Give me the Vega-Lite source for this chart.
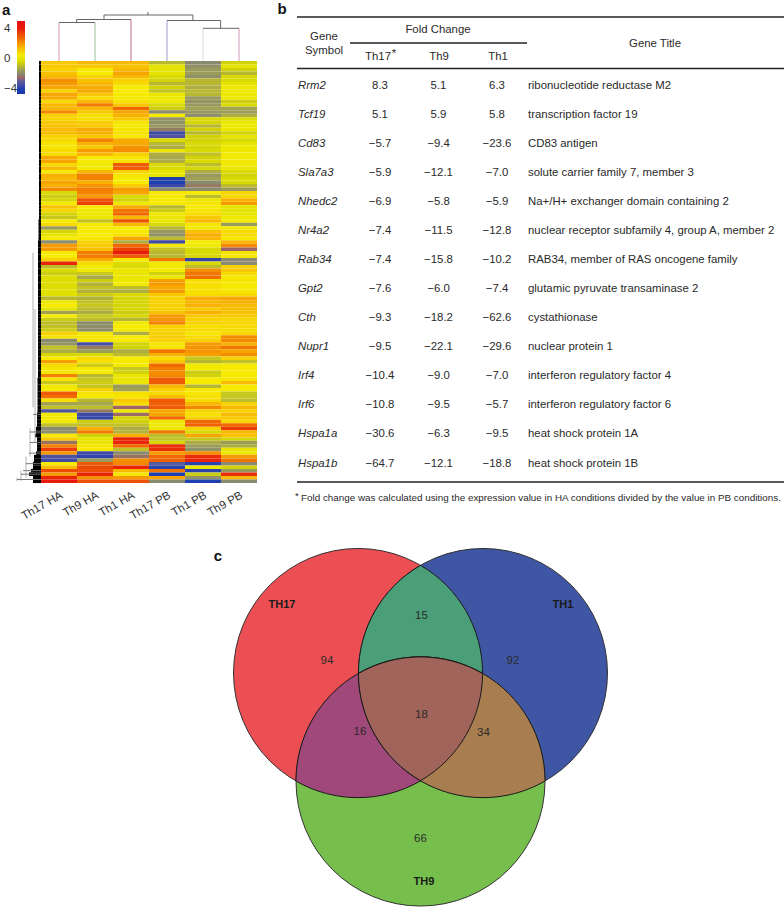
{"$schema":"https://vega.github.io/schema/vega-lite/v6.json","width":784,"height":912,"autosize":{"type":"none"},"padding":0,"background":"white",
"config":{"view":{"stroke":null},"text":{"font":"Liberation Sans","color":"#2a2a2a"},"axis":{"labelFont":"Liberation Sans"},"legend":{"labelFont":"Liberation Sans"}},
"datasets":{"genes":[
{"g":0,"d":2,"Th17 HA":1.2,"Th9 HA":1.5,"Th1 HA":1.5,"Th17 PB":-1,"Th1 PB":-2,"Th9 PB":-0.5},
{"g":1,"d":2,"Th17 HA":1.2,"Th9 HA":1.2,"Th1 HA":1.3,"Th17 PB":0,"Th1 PB":-1.8,"Th9 PB":0},
{"g":2,"d":2,"Th17 HA":1,"Th9 HA":0.5,"Th1 HA":1.5,"Th17 PB":0,"Th1 PB":-1.5,"Th9 PB":-0.5},
{"g":3,"d":2,"Th17 HA":1.3,"Th9 HA":0.5,"Th1 HA":1.8,"Th17 PB":0,"Th1 PB":-1.5,"Th9 PB":-1},
{"g":4,"d":2,"Th17 HA":1.5,"Th9 HA":1,"Th1 HA":1.5,"Th17 PB":-0.3,"Th1 PB":-1.8,"Th9 PB":-0.3},
{"g":5,"d":2,"Th17 HA":2.2,"Th9 HA":1.3,"Th1 HA":1,"Th17 PB":-0.5,"Th1 PB":-1,"Th9 PB":-0.3},
{"g":6,"d":2,"Th17 HA":2,"Th9 HA":1.5,"Th1 HA":0.8,"Th17 PB":-1,"Th1 PB":-1,"Th9 PB":0},
{"g":7,"d":2,"Th17 HA":1.8,"Th9 HA":1.7,"Th1 HA":0.5,"Th17 PB":-0.5,"Th1 PB":-1.2,"Th9 PB":0.3},
{"g":8,"d":2,"Th17 HA":1,"Th9 HA":1.8,"Th1 HA":0.5,"Th17 PB":-0.8,"Th1 PB":-1,"Th9 PB":0.3},
{"g":9,"d":2,"Th17 HA":1.8,"Th9 HA":1.2,"Th1 HA":0.5,"Th17 PB":0.2,"Th1 PB":-1,"Th9 PB":0.3},
{"g":10,"d":2,"Th17 HA":1.7,"Th9 HA":0.8,"Th1 HA":0.5,"Th17 PB":0.3,"Th1 PB":-1.6,"Th9 PB":0.3},
{"g":11,"d":2,"Th17 HA":0.8,"Th9 HA":1.5,"Th1 HA":0.7,"Th17 PB":0.3,"Th1 PB":-1.7,"Th9 PB":-0.6},
{"g":12,"d":2,"Th17 HA":1.5,"Th9 HA":2.5,"Th1 HA":1.2,"Th17 PB":-0.3,"Th1 PB":-1.6,"Th9 PB":-0.3},
{"g":13,"d":2,"Th17 HA":1.5,"Th9 HA":1.5,"Th1 HA":2.8,"Th17 PB":-0.6,"Th1 PB":-1.4,"Th9 PB":-1.4},
{"g":14,"d":2,"Th17 HA":2.3,"Th9 HA":1.2,"Th1 HA":1.8,"Th17 PB":-2,"Th1 PB":-1.6,"Th9 PB":-1.5},
{"g":15,"d":2,"Th17 HA":1,"Th9 HA":0.7,"Th1 HA":1.6,"Th17 PB":0.5,"Th1 PB":-1.9,"Th9 PB":-1.2},
{"g":16,"d":2,"Th17 HA":1,"Th9 HA":0.7,"Th1 HA":1.2,"Th17 PB":-1.8,"Th1 PB":-0.3,"Th9 PB":-0.2},
{"g":17,"d":2,"Th17 HA":1.2,"Th9 HA":1.1,"Th1 HA":0.6,"Th17 PB":-1.8,"Th1 PB":-0.4,"Th9 PB":0.2},
{"g":18,"d":2,"Th17 HA":1.3,"Th9 HA":1.2,"Th1 HA":0.5,"Th17 PB":-1.6,"Th1 PB":-1,"Th9 PB":0.3},
{"g":19,"d":2,"Th17 HA":1.4,"Th9 HA":1.7,"Th1 HA":0.6,"Th17 PB":-2.2,"Th1 PB":-0.5,"Th9 PB":0.3},
{"g":20,"d":2,"Th17 HA":1.4,"Th9 HA":1.6,"Th1 HA":0.7,"Th17 PB":-3.6,"Th1 PB":-1,"Th9 PB":-0.5},
{"g":21,"d":2,"Th17 HA":1,"Th9 HA":1.2,"Th1 HA":0.5,"Th17 PB":-3.3,"Th1 PB":-0.5,"Th9 PB":0},
{"g":22,"d":2,"Th17 HA":0.8,"Th9 HA":2.4,"Th1 HA":1.7,"Th17 PB":-0.3,"Th1 PB":-0.5,"Th9 PB":-0.3},
{"g":23,"d":2,"Th17 HA":0.6,"Th9 HA":1.6,"Th1 HA":1.7,"Th17 PB":-1,"Th1 PB":-0.3,"Th9 PB":0.1},
{"g":24,"d":2,"Th17 HA":0.6,"Th9 HA":1.2,"Th1 HA":2.1,"Th17 PB":-1.2,"Th1 PB":-0.4,"Th9 PB":0.3},
{"g":25,"d":2,"Th17 HA":0.8,"Th9 HA":2,"Th1 HA":2.2,"Th17 PB":0.3,"Th1 PB":-0.3,"Th9 PB":0.3},
{"g":26,"d":2,"Th17 HA":0.8,"Th9 HA":1.5,"Th1 HA":1,"Th17 PB":-1.2,"Th1 PB":-0.8,"Th9 PB":0.4},
{"g":27,"d":2,"Th17 HA":1.8,"Th9 HA":0.5,"Th1 HA":0.6,"Th17 PB":-1.3,"Th1 PB":-0.5,"Th9 PB":0.4},
{"g":28,"d":2,"Th17 HA":1.8,"Th9 HA":0.5,"Th1 HA":0.7,"Th17 PB":-1.2,"Th1 PB":-0.3,"Th9 PB":0.4},
{"g":29,"d":2,"Th17 HA":0.8,"Th9 HA":0.4,"Th1 HA":3,"Th17 PB":-0.3,"Th1 PB":-0.9,"Th9 PB":0.4},
{"g":30,"d":2,"Th17 HA":1.5,"Th9 HA":0.4,"Th1 HA":3,"Th17 PB":-0.3,"Th1 PB":-0.4,"Th9 PB":0.2},
{"g":31,"d":2,"Th17 HA":0.5,"Th9 HA":1.5,"Th1 HA":1,"Th17 PB":0.2,"Th1 PB":-1.2,"Th9 PB":-0.3},
{"g":32,"d":2,"Th17 HA":1.6,"Th9 HA":2.4,"Th1 HA":0.6,"Th17 PB":0,"Th1 PB":-1.6,"Th9 PB":-0.5},
{"g":33,"d":2,"Th17 HA":1.5,"Th9 HA":2.4,"Th1 HA":0.5,"Th17 PB":-4,"Th1 PB":-1.4,"Th9 PB":-0.3},
{"g":34,"d":2,"Th17 HA":1.8,"Th9 HA":1.6,"Th1 HA":0.5,"Th17 PB":-4,"Th1 PB":-2,"Th9 PB":-0.3},
{"g":35,"d":2,"Th17 HA":1.6,"Th9 HA":2.1,"Th1 HA":1.1,"Th17 PB":-3.6,"Th1 PB":-2.2,"Th9 PB":-0.9},
{"g":36,"d":2,"Th17 HA":2.3,"Th9 HA":2.5,"Th1 HA":2,"Th17 PB":-2,"Th1 PB":-2,"Th9 PB":-1.5},
{"g":37,"d":2,"Th17 HA":-0.3,"Th9 HA":2.4,"Th1 HA":1.8,"Th17 PB":0.6,"Th1 PB":0.5,"Th9 PB":1},
{"g":38,"d":2,"Th17 HA":-0.6,"Th9 HA":2,"Th1 HA":-0.3,"Th17 PB":0.5,"Th1 PB":-0.9,"Th9 PB":0.8},
{"g":39,"d":2,"Th17 HA":-0.4,"Th9 HA":3.2,"Th1 HA":-0.5,"Th17 PB":0.5,"Th1 PB":0.2,"Th9 PB":1.6},
{"g":40,"d":2,"Th17 HA":0.5,"Th9 HA":3.5,"Th1 HA":0.3,"Th17 PB":0.5,"Th1 PB":0.6,"Th9 PB":2},
{"g":41,"d":2,"Th17 HA":1.3,"Th9 HA":0.5,"Th1 HA":1.7,"Th17 PB":-1,"Th1 PB":0.5,"Th9 PB":0},
{"g":42,"d":2,"Th17 HA":0.9,"Th9 HA":0.4,"Th1 HA":2.6,"Th17 PB":-0.6,"Th1 PB":0.6,"Th9 PB":0},
{"g":43,"d":2,"Th17 HA":-0.4,"Th9 HA":0.3,"Th1 HA":2.8,"Th17 PB":0.3,"Th1 PB":0.8,"Th9 PB":0.1},
{"g":44,"d":2,"Th17 HA":-0.7,"Th9 HA":0.2,"Th1 HA":1.5,"Th17 PB":0.2,"Th1 PB":1.2,"Th9 PB":0.3},
{"g":45,"d":2.5,"Th17 HA":0.5,"Th9 HA":-0.8,"Th1 HA":3.2,"Th17 PB":0.2,"Th1 PB":1.5,"Th9 PB":0.4},
{"g":46,"d":2.5,"Th17 HA":0.8,"Th9 HA":0.5,"Th1 HA":1.5,"Th17 PB":-0.3,"Th1 PB":0.6,"Th9 PB":-1.5},
{"g":47,"d":2.5,"Th17 HA":-1.6,"Th9 HA":0.5,"Th1 HA":0.5,"Th17 PB":-1,"Th1 PB":0.4,"Th9 PB":0.4},
{"g":48,"d":2.5,"Th17 HA":-0.4,"Th9 HA":0.5,"Th1 HA":0.5,"Th17 PB":-1.6,"Th1 PB":1.3,"Th9 PB":0.8},
{"g":49,"d":2.5,"Th17 HA":0.1,"Th9 HA":0.5,"Th1 HA":0.7,"Th17 PB":-1.8,"Th1 PB":1.7,"Th9 PB":0.8},
{"g":50,"d":2.5,"Th17 HA":0.5,"Th9 HA":0.6,"Th1 HA":1.8,"Th17 PB":-0.9,"Th1 PB":1.5,"Th9 PB":0.5},
{"g":51,"d":3,"Th17 HA":-1.9,"Th9 HA":1,"Th1 HA":-1.2,"Th17 PB":-3.6,"Th1 PB":0.5,"Th9 PB":1.5},
{"g":52,"d":3,"Th17 HA":2,"Th9 HA":1.2,"Th1 HA":2.8,"Th17 PB":0.5,"Th1 PB":0.4,"Th9 PB":2.3},
{"g":53,"d":3,"Th17 HA":2,"Th9 HA":1.3,"Th1 HA":3.5,"Th17 PB":-0.8,"Th1 PB":-0.3,"Th9 PB":-2.5},
{"g":54,"d":3,"Th17 HA":0.5,"Th9 HA":2.5,"Th1 HA":4,"Th17 PB":-1,"Th1 PB":-0.3,"Th9 PB":0.6},
{"g":55,"d":3,"Th17 HA":0.5,"Th9 HA":2.5,"Th1 HA":3,"Th17 PB":-1,"Th1 PB":-0.4,"Th9 PB":0.6},
{"g":56,"d":3,"Th17 HA":1,"Th9 HA":1.7,"Th1 HA":0.5,"Th17 PB":2.5,"Th1 PB":-3.8,"Th9 PB":-2},
{"g":57,"d":3,"Th17 HA":3.9,"Th9 HA":0.8,"Th1 HA":-0.2,"Th17 PB":0.4,"Th1 PB":-0.3,"Th9 PB":-2},
{"g":58,"d":3,"Th17 HA":-0.9,"Th9 HA":0.4,"Th1 HA":-0.3,"Th17 PB":0.4,"Th1 PB":-0.9,"Th9 PB":1},
{"g":59,"d":3,"Th17 HA":-0.3,"Th9 HA":0.3,"Th1 HA":0.2,"Th17 PB":0.5,"Th1 PB":2.2,"Th9 PB":1.2},
{"g":60,"d":3,"Th17 HA":-0.6,"Th9 HA":-0.7,"Th1 HA":0.2,"Th17 PB":-0.5,"Th1 PB":2.6,"Th9 PB":0.8},
{"g":61,"d":3,"Th17 HA":-0.2,"Th9 HA":-1.3,"Th1 HA":0.2,"Th17 PB":0.2,"Th1 PB":2.7,"Th9 PB":0.6},
{"g":62,"d":3,"Th17 HA":-0.2,"Th9 HA":-0.6,"Th1 HA":0.3,"Th17 PB":1.9,"Th1 PB":0.7,"Th9 PB":0.6},
{"g":63,"d":3,"Th17 HA":-0.2,"Th9 HA":-1.1,"Th1 HA":0.4,"Th17 PB":2,"Th1 PB":0.7,"Th9 PB":0.5},
{"g":64,"d":3,"Th17 HA":-0.2,"Th9 HA":-0.8,"Th1 HA":-0.9,"Th17 PB":1.7,"Th1 PB":0.7,"Th9 PB":0.5},
{"g":65,"d":3,"Th17 HA":-0.1,"Th9 HA":-1.1,"Th1 HA":-1.2,"Th17 PB":2,"Th1 PB":0.7,"Th9 PB":0.6},
{"g":66,"d":3,"Th17 HA":-0.1,"Th9 HA":-0.6,"Th1 HA":-0.3,"Th17 PB":1.2,"Th1 PB":0.8,"Th9 PB":0.8},
{"g":67,"d":3,"Th17 HA":-1,"Th9 HA":-1.1,"Th1 HA":-0.4,"Th17 PB":1,"Th1 PB":1.7,"Th9 PB":1.8},
{"g":68,"d":3,"Th17 HA":0.3,"Th9 HA":-0.8,"Th1 HA":-0.4,"Th17 PB":1,"Th1 PB":1.5,"Th9 PB":1.6},
{"g":69,"d":3,"Th17 HA":0.5,"Th9 HA":-0.7,"Th1 HA":-0.4,"Th17 PB":1,"Th1 PB":1.6,"Th9 PB":1.4},
{"g":70,"d":3,"Th17 HA":0,"Th9 HA":-0.9,"Th1 HA":-0.4,"Th17 PB":1,"Th1 PB":1.2,"Th9 PB":1.4},
{"g":71,"d":3,"Th17 HA":-1.4,"Th9 HA":-1.2,"Th1 HA":-0.6,"Th17 PB":1.3,"Th1 PB":1.6,"Th9 PB":1.3},
{"g":72,"d":3,"Th17 HA":0.5,"Th9 HA":-0.7,"Th1 HA":-0.4,"Th17 PB":2,"Th1 PB":1.2,"Th9 PB":1.2},
{"g":73,"d":3,"Th17 HA":-0.6,"Th9 HA":-0.9,"Th1 HA":-1,"Th17 PB":2.1,"Th1 PB":1,"Th9 PB":0.9},
{"g":74,"d":3,"Th17 HA":-0.9,"Th9 HA":-1.9,"Th1 HA":0.3,"Th17 PB":2.4,"Th1 PB":1,"Th9 PB":0.9},
{"g":75,"d":3,"Th17 HA":-0.8,"Th9 HA":-1.9,"Th1 HA":0.5,"Th17 PB":1,"Th1 PB":0.7,"Th9 PB":0.8},
{"g":76,"d":3,"Th17 HA":-0.6,"Th9 HA":-1.9,"Th1 HA":0.5,"Th17 PB":1,"Th1 PB":0.8,"Th9 PB":0.8},
{"g":77,"d":3,"Th17 HA":1,"Th9 HA":0.4,"Th1 HA":-1.2,"Th17 PB":1,"Th1 PB":0.6,"Th9 PB":0.9},
{"g":78,"d":3,"Th17 HA":0.6,"Th9 HA":0.6,"Th1 HA":0.5,"Th17 PB":1.1,"Th1 PB":0.8,"Th9 PB":2.2},
{"g":79,"d":3,"Th17 HA":-2,"Th9 HA":0.6,"Th1 HA":0.5,"Th17 PB":1,"Th1 PB":1,"Th9 PB":2.3},
{"g":80,"d":3,"Th17 HA":-1.7,"Th9 HA":-3.4,"Th1 HA":-0.5,"Th17 PB":0.6,"Th1 PB":2,"Th9 PB":1.6},
{"g":81,"d":3,"Th17 HA":-0.8,"Th9 HA":-2.2,"Th1 HA":-0.5,"Th17 PB":0.6,"Th1 PB":2.1,"Th9 PB":2.6},
{"g":82,"d":3,"Th17 HA":-1.2,"Th9 HA":-1.5,"Th1 HA":-1.2,"Th17 PB":2.6,"Th1 PB":2.1,"Th9 PB":1.8},
{"g":83,"d":3,"Th17 HA":-0.4,"Th9 HA":-0.3,"Th1 HA":-0.9,"Th17 PB":1.6,"Th1 PB":1.9,"Th9 PB":2.2},
{"g":84,"d":3,"Th17 HA":0.5,"Th9 HA":0.8,"Th1 HA":0.5,"Th17 PB":0.8,"Th1 PB":-0.7,"Th9 PB":1},
{"g":85,"d":3,"Th17 HA":1.9,"Th9 HA":0.7,"Th1 HA":0.5,"Th17 PB":1.2,"Th1 PB":-1,"Th9 PB":-0.8},
{"g":86,"d":3,"Th17 HA":0.8,"Th9 HA":-0.6,"Th1 HA":0.4,"Th17 PB":2.8,"Th1 PB":0.4,"Th9 PB":0.5},
{"g":87,"d":3,"Th17 HA":0.6,"Th9 HA":0.5,"Th1 HA":-0.7,"Th17 PB":2.5,"Th1 PB":0.4,"Th9 PB":0.5},
{"g":88,"d":3,"Th17 HA":0.6,"Th9 HA":0.5,"Th1 HA":-0.5,"Th17 PB":2.2,"Th1 PB":-0.6,"Th9 PB":0.5},
{"g":89,"d":3,"Th17 HA":2.4,"Th9 HA":-1,"Th1 HA":0.2,"Th17 PB":2.3,"Th1 PB":-0.5,"Th9 PB":0.5},
{"g":90,"d":3.5,"Th17 HA":0.6,"Th9 HA":-0.7,"Th1 HA":0.2,"Th17 PB":3,"Th1 PB":0.5,"Th9 PB":0.6},
{"g":91,"d":3.5,"Th17 HA":-0.7,"Th9 HA":-0.6,"Th1 HA":0.2,"Th17 PB":3,"Th1 PB":0.5,"Th9 PB":1.4},
{"g":92,"d":3.5,"Th17 HA":0.4,"Th9 HA":-0.7,"Th1 HA":-1.5,"Th17 PB":1.5,"Th1 PB":-1,"Th9 PB":0.5},
{"g":93,"d":3.5,"Th17 HA":0.5,"Th9 HA":1,"Th1 HA":-1.4,"Th17 PB":1,"Th1 PB":0.5,"Th9 PB":0.5},
{"g":94,"d":3.5,"Th17 HA":3,"Th9 HA":0.6,"Th1 HA":0.7,"Th17 PB":0.8,"Th1 PB":0.6,"Th9 PB":-0.7},
{"g":95,"d":3.5,"Th17 HA":2.7,"Th9 HA":0.5,"Th1 HA":0.6,"Th17 PB":1.4,"Th1 PB":0.7,"Th9 PB":-0.7},
{"g":96,"d":3.5,"Th17 HA":0.7,"Th9 HA":-1,"Th1 HA":1.2,"Th17 PB":3,"Th1 PB":0.8,"Th9 PB":-0.9},
{"g":97,"d":3.5,"Th17 HA":-1.4,"Th9 HA":-1.3,"Th1 HA":0.8,"Th17 PB":2.9,"Th1 PB":1.5,"Th9 PB":1},
{"g":98,"d":3.5,"Th17 HA":-0.8,"Th9 HA":-0.9,"Th1 HA":-2.5,"Th17 PB":3,"Th1 PB":2.3,"Th9 PB":1.5},
{"g":99,"d":3.5,"Th17 HA":-3.3,"Th9 HA":-2.2,"Th1 HA":0.3,"Th17 PB":1.8,"Th1 PB":1,"Th9 PB":1},
{"g":100,"d":4,"Th17 HA":0.4,"Th9 HA":-3.6,"Th1 HA":-2.4,"Th17 PB":1.8,"Th1 PB":0.7,"Th9 PB":1.4},
{"g":101,"d":4,"Th17 HA":0.4,"Th9 HA":-3.8,"Th1 HA":-0.4,"Th17 PB":2.8,"Th1 PB":1,"Th9 PB":1.2},
{"g":102,"d":4,"Th17 HA":0.4,"Th9 HA":-0.6,"Th1 HA":-0.5,"Th17 PB":0.3,"Th1 PB":2.8,"Th9 PB":0.9},
{"g":103,"d":4,"Th17 HA":-0.8,"Th9 HA":-0.8,"Th1 HA":-0.8,"Th17 PB":0.3,"Th1 PB":2.9,"Th9 PB":2.8},
{"g":104,"d":5,"Th17 HA":-2,"Th9 HA":1.6,"Th1 HA":-1.2,"Th17 PB":0.3,"Th1 PB":1,"Th9 PB":3.6},
{"g":105,"d":5,"Th17 HA":-1.9,"Th9 HA":2.5,"Th1 HA":-1.1,"Th17 PB":2.6,"Th1 PB":-0.3,"Th9 PB":1.5},
{"g":106,"d":6,"Th17 HA":0.5,"Th9 HA":-0.5,"Th1 HA":1.6,"Th17 PB":-0.9,"Th1 PB":1.8,"Th9 PB":1.3},
{"g":107,"d":4,"Th17 HA":1.2,"Th9 HA":0,"Th1 HA":3.9,"Th17 PB":-0.8,"Th1 PB":-0.7,"Th9 PB":-0.4},
{"g":108,"d":4,"Th17 HA":-2.3,"Th9 HA":0.2,"Th1 HA":3.9,"Th17 PB":-0.4,"Th1 PB":-1.2,"Th9 PB":-1.5},
{"g":109,"d":4,"Th17 HA":2.4,"Th9 HA":0.6,"Th1 HA":2.8,"Th17 PB":3.8,"Th1 PB":-1.5,"Th9 PB":-1.2},
{"g":110,"d":4,"Th17 HA":3.6,"Th9 HA":0.5,"Th1 HA":-0.8,"Th17 PB":3.8,"Th1 PB":-1.8,"Th9 PB":0.1},
{"g":111,"d":5,"Th17 HA":2,"Th9 HA":-3.6,"Th1 HA":-2,"Th17 PB":2,"Th1 PB":2.2,"Th9 PB":0.3},
{"g":112,"d":7,"Th17 HA":-3.3,"Th9 HA":-3.8,"Th1 HA":-2.3,"Th17 PB":2.8,"Th1 PB":3.8,"Th9 PB":2},
{"g":113,"d":7,"Th17 HA":-3.6,"Th9 HA":-1.5,"Th1 HA":2.2,"Th17 PB":2.9,"Th1 PB":3.9,"Th9 PB":2.6},
{"g":114,"d":8,"Th17 HA":0.5,"Th9 HA":3,"Th1 HA":2.3,"Th17 PB":-3,"Th1 PB":-3.9,"Th9 PB":-2},
{"g":115,"d":8,"Th17 HA":1.4,"Th9 HA":3.4,"Th1 HA":3.9,"Th17 PB":-3.9,"Th1 PB":0.2,"Th9 PB":-0.5},
{"g":116,"d":10,"Th17 HA":3.3,"Th9 HA":3.2,"Th1 HA":1.5,"Th17 PB":2.6,"Th1 PB":-3.9,"Th9 PB":-1.6},
{"g":117,"d":12,"Th17 HA":2,"Th9 HA":3.9,"Th1 HA":0.6,"Th17 PB":-4,"Th1 PB":-0.6,"Th9 PB":3.8},
{"g":118,"d":8,"Th17 HA":3.9,"Th9 HA":2.2,"Th1 HA":2,"Th17 PB":1.8,"Th1 PB":-1.8,"Th9 PB":1.5},
{"g":119,"d":8,"Th17 HA":4,"Th9 HA":3.2,"Th1 HA":3.2,"Th17 PB":-2,"Th1 PB":-4,"Th9 PB":-2}
],
"table":[
{"gene":"Rrm2","Th17":8.3,"Th9":5.1,"Th1":6.3,"title":"ribonucleotide reductase M2"},
{"gene":"Tcf19","Th17":5.1,"Th9":5.9,"Th1":5.8,"title":"transcription factor 19"},
{"gene":"Cd83","Th17":-5.7,"Th9":-9.4,"Th1":-23.6,"title":"CD83 antigen"},
{"gene":"Sla7a3","Th17":-5.9,"Th9":-12.1,"Th1":-7.0,"title":"solute carrier family 7, member 3"},
{"gene":"Nhedc2","Th17":-6.9,"Th9":-5.8,"Th1":-5.9,"title":"Na+/H+ exchanger domain containing 2"},
{"gene":"Nr4a2","Th17":-7.4,"Th9":-11.5,"Th1":-12.8,"title":"nuclear receptor subfamily 4, group A, member 2"},
{"gene":"Rab34","Th17":-7.4,"Th9":-15.8,"Th1":-10.2,"title":"RAB34, member of RAS oncogene family"},
{"gene":"Gpt2","Th17":-7.6,"Th9":-6.0,"Th1":-7.4,"title":"glutamic pyruvate transaminase 2"},
{"gene":"Cth","Th17":-9.3,"Th9":-18.2,"Th1":-62.6,"title":"cystathionase"},
{"gene":"Nupr1","Th17":-9.5,"Th9":-22.1,"Th1":-29.6,"title":"nuclear protein 1"},
{"gene":"Irf4","Th17":-10.4,"Th9":-9.0,"Th1":-7.0,"title":"interferon regulatory factor 4"},
{"gene":"Irf6","Th17":-10.8,"Th9":-9.5,"Th1":-5.7,"title":"interferon regulatory factor 6"},
{"gene":"Hspa1a","Th17":-30.6,"Th9":-6.3,"Th1":-9.5,"title":"heat shock protein 1A"},
{"gene":"Hspa1b","Th17":-64.7,"Th9":-12.1,"Th1":-18.8,"title":"heat shock protein 1B"}
]},
"layer":[
{"data":{"name":"genes"},"transform":[{"fold":["Th17 HA","Th9 HA","Th1 HA","Th17 PB","Th1 PB","Th9 PB"],"as":["sample","v"]}],
 "mark":{"type":"rect"},
 "encoding":{
  "x":{"field":"sample","type":"nominal","title":null,"sort":["Th17 HA","Th9 HA","Th1 HA","Th17 PB","Th1 PB","Th9 PB"],"scale":{"type":"band","range":[41,257],"paddingInner":0,"paddingOuter":0},"axis":{"orient":"bottom","offset":-429,"domain":false,"ticks":false,"grid":false,"labelAngle":-30,"labelAlign":"right","labelBaseline":"top","labelFontSize":11.5,"labelColor":"#333","labelPadding":6,"labelDx":11,"labelOverlap":false}},
  "y":{"field":"g","type":"ordinal","title":null,"axis":null,"scale":{"type":"band","range":[61,483],"paddingInner":0,"paddingOuter":0}},
  "color":{"field":"v","type":"quantitative","scale":{"type":"linear","domain":[-4.67,-4,-3,-2,-1.5,-1,-0.5,0,0.5,1.2,2,3,4,5.07],"range":["#1a35b0","#1f3fae","#5a5a9a","#8a8a70","#9c9c5a","#b8b830","#d2d208","#e4e400","#f5ea00","#f8c800","#f59a00","#ee5a05","#e81b0a","#e81010"]},
   "legend":{"orient":"none","legendX":17,"legendY":21,"title":null,"gradientLength":73,"gradientThickness":8,"values":[4,0,-4],"labelFontSize":11.5,"labelColor":"#333","labelAlign":"right","labelOffset":-21,"gradientStrokeWidth":0,"tickCount":3}}
 }},
{"layer":[
 {"data":{"name":"genes"},"mark":{"type":"rule","color":"#000","strokeWidth":3.6},"encoding":{
  "x":{"field":"d","type":"quantitative","axis":null,"scale":{"domain":[41,0],"range":[0,41],"zero":false,"nice":false}},
  "x2":{"datum":0},
  "y":{"field":"g","type":"quantitative","axis":null,"scale":{"domain":[-0.5,119.5],"range":[61,483],"zero":false,"nice":false}}}},
 {"data":{"values":[{"d":8,"g":54,"g2":98},{"d":6,"g":70,"g2":108},{"d":11,"g":104,"g2":112},{"d":15,"g":112,"g2":118},{"d":20,"g":116,"g2":119},{"d":24,"g":118,"g2":119}]},"mark":{"type":"rule","color":"#b4b4b4","strokeWidth":1},"encoding":{
  "x":{"field":"d","type":"quantitative","axis":null,"scale":{"domain":[41,0],"range":[0,41],"zero":false,"nice":false}},
  "y":{"field":"g","type":"quantitative","axis":null,"scale":{"domain":[-0.5,119.5],"range":[61,483],"zero":false,"nice":false}},
  "y2":{"field":"g2"}}},
 {"data":{"values":[{"d":24,"g":118.5},{"d":20,"g":117},{"d":18,"g":116},{"d":15,"g":114},{"d":12,"g":111},{"d":11,"g":108},{"d":11,"g":105},{"d":8,"g":100}]},"mark":{"type":"rule","color":"#777","strokeWidth":1},"encoding":{
  "x":{"field":"d","type":"quantitative","axis":null,"scale":{"domain":[41,0],"range":[0,41],"zero":false,"nice":false}},
  "x2":{"datum":0},
  "y":{"field":"g","type":"quantitative","axis":null,"scale":{"domain":[-0.5,119.5],"range":[61,483],"zero":false,"nice":false}}}}
]},
{"layer":[
 {"data":{"values":[
  {"x":0.5,"h":0,"h2":38.5,"k":"pink"},{"x":1.5,"h":0,"h2":38.5,"k":"green"},{"x":2.5,"h":0,"h2":41.5,"k":"crimson"},{"x":3.5,"h":0,"h2":40.5,"k":"blue"},{"x":4.5,"h":0,"h2":32.7,"k":"light"},{"x":5.5,"h":0,"h2":32.7,"k":"mauve"},
  {"x":0.99,"h":38.5,"h2":41.5,"k":"stem"},{"x":1.75,"h":41.5,"h2":46,"k":"stem"},{"x":4.99,"h":32.7,"h2":40.5,"k":"stem"},{"x":4.22,"h":40.5,"h2":46,"k":"stem"},{"x":2.97,"h":46,"h2":49,"k":"stem"}]},
  "mark":{"type":"rule","strokeWidth":1},"encoding":{
  "x":{"field":"x","type":"quantitative","axis":null,"scale":{"domain":[0,6],"range":[41,257],"zero":false,"nice":false}},
  "y":{"field":"h","type":"quantitative","axis":null,"scale":{"domain":[0,61],"range":[61,0],"zero":false,"nice":false}},
  "y2":{"field":"h2"},
  "color":{"field":"k","type":"nominal","legend":null,"scale":{"domain":["pink","green","crimson","blue","light","mauve","stem"],"range":["#dc98a4","#9abf9a","#c46a88","#9a9ac8","#dcdce4","#d49ab8","#666666"]}}}},
 {"data":{"values":[{"x":0.5,"x2":1.5,"h":38.5},{"x":0.99,"x2":2.5,"h":41.5},{"x":1.75,"x2":4.22,"h":46},{"x":3.5,"x2":4.99,"h":40.5},{"x":4.5,"x2":5.5,"h":32.7}]},
  "mark":{"type":"rule","strokeWidth":1,"color":"#666"},"encoding":{
  "x":{"field":"x","type":"quantitative","axis":null,"scale":{"domain":[0,6],"range":[41,257],"zero":false,"nice":false}},
  "x2":{"field":"x2"},
  "y":{"field":"h","type":"quantitative","axis":null,"scale":{"domain":[0,61],"range":[61,0],"zero":false,"nice":false}}}},
 {"data":{"values":[{"t":"a","x":-0.97,"h":51}]},
  "mark":{"type":"text","fontWeight":"bold","fontSize":15,"color":"#111"},"encoding":{
  "x":{"field":"x","type":"quantitative","axis":null,"scale":{"domain":[0,6],"range":[41,257],"zero":false,"nice":false}},
  "y":{"field":"h","type":"quantitative","axis":null,"scale":{"domain":[0,61],"range":[61,0],"zero":false,"nice":false}},
  "text":{"field":"t"}}}
]},
{"layer":[
 {"data":{"name":"table"},"transform":[{"fold":["Th17","Th9","Th1"],"as":["col","val"]}],"mark":{"type":"text","fontSize":11.4,"align":"center"},"encoding":{
  "x":{"field":"col","type":"nominal","axis":null,"scale":{"type":"point","domain":["Gene","Th17","Th9","Th1","Title"],"range":[321.5,555.5],"padding":0}},
  "y":{"field":"gene","type":"nominal","axis":null,"sort":null,"scale":{"type":"point","range":[85.5,463.5],"padding":0}},
  "text":{"field":"val","type":"quantitative","format":".1f"}}},
 {"data":{"name":"table"},"mark":{"type":"text","fontSize":11.4,"align":"left","dx":-23.5,"fontStyle":"italic"},"encoding":{
  "x":{"datum":"Gene","type":"nominal","axis":null,"scale":{"type":"point","domain":["Gene","Th17","Th9","Th1","Title"],"range":[321.5,555.5],"padding":0}},
  "y":{"field":"gene","type":"nominal","axis":null,"sort":null,"scale":{"type":"point","range":[85.5,463.5],"padding":0}},
  "text":{"field":"gene"}}},
 {"data":{"name":"table"},"mark":{"type":"text","fontSize":11.4,"align":"left","dx":-27.5},"encoding":{
  "x":{"datum":"Title","type":"nominal","axis":null,"scale":{"type":"point","domain":["Gene","Th17","Th9","Th1","Title"],"range":[321.5,555.5],"padding":0}},
  "y":{"field":"gene","type":"nominal","axis":null,"sort":null,"scale":{"type":"point","range":[85.5,463.5],"padding":0}},
  "text":{"field":"title"}}}
]},
{"layer":[
 {"data":{"values":[{"x":0,"x2":487,"y":0,"w":"a"},{"x":53,"x2":230,"y":26,"w":"a"},{"x":0,"x2":487,"y":51.5,"w":"a"},{"x":0,"x2":487,"y":465,"w":"a"}]},
  "mark":{"type":"rule","color":"#222","strokeWidth":1.4},"encoding":{
  "x":{"field":"x","type":"quantitative","axis":null,"scale":{"domain":[0,487],"range":[297,784],"zero":false,"nice":false}},
  "x2":{"field":"x2"},
  "y":{"field":"y","type":"quantitative","axis":null,"scale":{"domain":[0,465],"range":[17,482],"zero":false,"nice":false}}}},
 {"data":{"values":[{"t":"Fold Change","x":141,"y":13},{"t":"Gene","x":27,"y":19.5},{"t":"Symbol","x":27,"y":34},{"t":"Gene Title","x":358,"y":27},{"t":"Th17","x":81,"y":39.5},{"t":"Th9","x":142,"y":39.5},{"t":"Th1","x":201,"y":39.5},{"t":"*","x":97,"y":37}]},
  "mark":{"type":"text","fontSize":11.4,"align":"center","baseline":"middle"},"encoding":{
  "x":{"field":"x","type":"quantitative","axis":null,"scale":{"domain":[0,487],"range":[297,784],"zero":false,"nice":false}},
  "y":{"field":"y","type":"quantitative","axis":null,"scale":{"domain":[0,465],"range":[17,482],"zero":false,"nice":false}},
  "text":{"field":"t"}}},
 {"data":{"values":[{"t":"Fold change was calculated using the expression value in HA conditions divided by the value in PB conditions.","x":4,"y":481},{"t":"*","x":-2,"y":479}]},
  "mark":{"type":"text","fontSize":9.85,"align":"left","baseline":"middle"},"encoding":{
  "x":{"field":"x","type":"quantitative","axis":null,"scale":{"domain":[0,487],"range":[297,784],"zero":false,"nice":false}},
  "y":{"field":"y","type":"quantitative","axis":null,"scale":{"domain":[0,465],"range":[17,482],"zero":false,"nice":false}},
  "text":{"field":"t"}}},
 {"data":{"values":[{"t":"b","x":-15,"y":-8}]},
  "mark":{"type":"text","fontSize":15,"fontWeight":"bold","baseline":"middle","color":"#111"},"encoding":{
  "x":{"field":"x","type":"quantitative","axis":null,"scale":{"domain":[0,487],"range":[297,784],"zero":false,"nice":false}},
  "y":{"field":"y","type":"quantitative","axis":null,"scale":{"domain":[0,465],"range":[17,482],"zero":false,"nice":false}},
  "text":{"field":"t"}}}
]},
{"encoding":{
  "x":{"field":"x","type":"quantitative","axis":null,"scale":{"domain":[0,375],"range":[233.5,608.5],"zero":false,"nice":false}},
  "y":{"field":"y","type":"quantitative","axis":null,"scale":{"domain":[0,357],"range":[549,906],"zero":false,"nice":false}}},
 "layer":[
 {"data":{"values":[{"set":"TH17","x":124.5,"y":124},{"set":"TH1","x":249.5,"y":124},{"set":"TH9","x":187,"y":232.5}]},
  "mark":{"type":"point","shape":"circle","filled":true,"opacity":1,"size":62001,"stroke":"#333","strokeWidth":1},
  "encoding":{"fill":{"field":"set","type":"nominal","legend":null,"scale":{"domain":["TH17","TH1","TH9"],"range":["#EC4F53","#3F56A5","#76BF4C"]}}}},
 {"data":{"values":[{"region":"TH17 and TH1","x":187,"y":124}]},
  "mark":{"type":"point","filled":true,"opacity":1,"size":4,"fill":"#4A9E78","stroke":"#1a1a1a","strokeWidth":1,"shape":"M0,-107.7 A124.5,124.5 0 0 1 0,107.7 A124.5,124.5 0 0 1 0,-107.7 Z"}},
 {"data":{"values":[{"region":"TH17 and TH9","x":155.75,"y":178.25}]},
  "mark":{"type":"point","filled":true,"opacity":1,"size":4,"fill":"#A0487A","stroke":"#1a1a1a","strokeWidth":1,"shape":"M93.3,-53.8 A124.5,124.5 0 0 1 -93.3,53.8 A124.5,124.5 0 0 1 93.3,-53.8 Z"}},
 {"data":{"values":[{"region":"TH1 and TH9","x":218.25,"y":178.25}]},
  "mark":{"type":"point","filled":true,"opacity":1,"size":4,"fill":"#A87D50","stroke":"#1a1a1a","strokeWidth":1,"shape":"M-93.3,-53.8 A124.5,124.5 0 0 1 93.3,53.8 A124.5,124.5 0 0 1 -93.3,-53.8 Z"}},
 {"data":{"values":[{"region":"all three","x":187,"y":160.5}]},
  "mark":{"type":"point","filled":true,"opacity":1,"size":4,"fill":"#A0645A","stroke":"#1a1a1a","strokeWidth":1,"shape":"M-62.1,-36 A124.5,124.5 0 0 1 62.1,-36 A124.5,124.5 0 0 1 0,71.2 A124.5,124.5 0 0 1 -62.1,-36 Z"}},
 {"data":{"values":[{"t":"94","x":93.5,"y":112},{"t":"15","x":188,"y":67},{"t":"92","x":279.5,"y":112},{"t":"18","x":188,"y":166},{"t":"16","x":126.5,"y":183},{"t":"34","x":250,"y":184},{"t":"66","x":187,"y":290}]},
  "mark":{"type":"text","fontSize":11.5,"baseline":"middle","align":"center","color":"#2a2a2a"},"encoding":{"text":{"field":"t"}}},
 {"data":{"values":[{"t":"TH17","x":48.5,"y":56},{"t":"TH1","x":329.5,"y":56},{"t":"TH9","x":190.5,"y":333}]},
  "mark":{"type":"text","fontSize":11,"fontWeight":"bold","baseline":"middle","align":"center","color":"#1a1a1a"},"encoding":{"text":{"field":"t"}}},
 {"data":{"values":[{"t":"c","x":-15.5,"y":7}]},
  "mark":{"type":"text","fontSize":15,"fontWeight":"bold","baseline":"middle","color":"#111"},"encoding":{"text":{"field":"t"}}}
]}
],
"resolve":{"scale":{"x":"independent","y":"independent","color":"independent","fill":"independent"},"axis":{"x":"independent","y":"independent"},"legend":{"color":"independent"}}
}
